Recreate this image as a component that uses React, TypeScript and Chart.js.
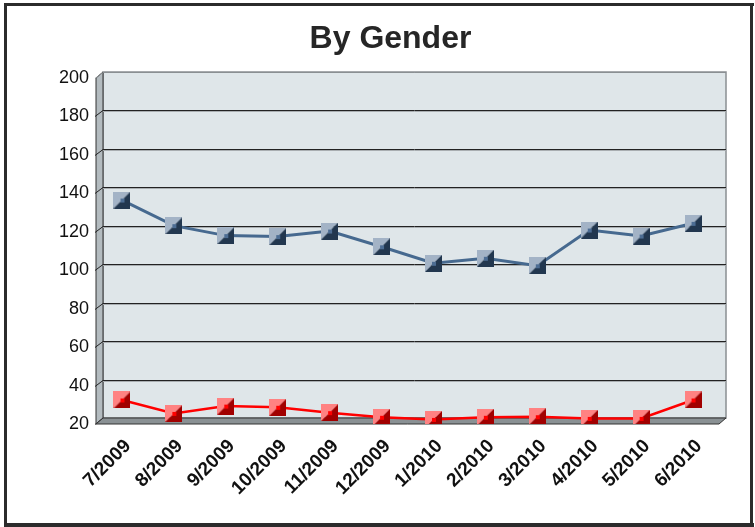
import React, { useEffect, useRef } from "react";
import { Chart, registerables } from "chart.js";

Chart.register(...registerables);

const categories = [
  "7/2009", "8/2009", "9/2009", "10/2009", "11/2009", "12/2009",
  "1/2010", "2/2010", "3/2010", "4/2010", "5/2010", "6/2010",
];
const blueSeries = [136.5, 123.2, 118, 117.5, 120.4, 112.2, 103.6, 106.2, 102.3, 120.9, 117.8, 124.4];
const redSeries = [32.5, 25.5, 29.3, 28.7, 25.9, 23.5, 22.4, 23.5, 23.8, 22.9, 22.9, 32.5];
const yTicks = [20, 40, 60, 80, 100, 120, 140, 160, 180, 200];
const titleText = "By Gender";

const DX = 7;
const DY = 6;

function makeMarker(light: string, dark: string, center: string): HTMLCanvasElement {
  const c = document.createElement("canvas");
  c.width = 17;
  c.height = 17;
  const g = c.getContext("2d")!;
  g.fillStyle = light;
  g.beginPath();
  g.moveTo(0, 0);
  g.lineTo(17, 0);
  g.lineTo(0, 17);
  g.closePath();
  g.fill();
  g.fillStyle = dark;
  g.beginPath();
  g.moveTo(17, 0);
  g.lineTo(17, 17);
  g.lineTo(0, 17);
  g.closePath();
  g.fill();
  g.fillStyle = center;
  g.fillRect(7, 7, 4, 4);
  return c;
}

const framePlugin = {
  id: "frame3d",
  beforeDraw(chart: any) {
    const ctx = chart.ctx;
    const W = chart.width;
    const H = chart.height;
    ctx.save();
    ctx.fillStyle = "#ffffff";
    ctx.fillRect(0, 0, W, H);
    ctx.fillStyle = "#2b2b2b";
    ctx.fillRect(4, 3, 750, 3);
    ctx.fillRect(4, 3, 3, 524);
    ctx.fillRect(750, 3, 3, 524);
    ctx.fillRect(4, 523, 750, 4);
    ctx.fillStyle = "#262626";
    ctx.font = "bold 32px 'Liberation Sans', Arial, sans-serif";
    ctx.textAlign = "center";
    ctx.textBaseline = "alphabetic";
    ctx.fillText(titleText, 390.5, 48);
    ctx.restore();
  },
  beforeDatasetsDraw(chart: any) {
    const ctx = chart.ctx;
    const { left, right, top, bottom } = chart.chartArea;
    const ys = chart.scales.y;
    ctx.save();
    // back wall
    ctx.fillStyle = "#dfe6e9";
    ctx.fillRect(left + DX, top - DY, right - left, bottom - top);
    ctx.strokeStyle = "#8a8f92";
    ctx.lineWidth = 1.5;
    ctx.strokeRect(left + DX, top - DY, right - left, bottom - top);
    // side wall
    ctx.fillStyle = "#b3bbbf";
    ctx.beginPath();
    ctx.moveTo(left, top);
    ctx.lineTo(left + DX, top - DY);
    ctx.lineTo(left + DX, bottom - DY);
    ctx.lineTo(left, bottom);
    ctx.closePath();
    ctx.fill();
    ctx.strokeStyle = "#333";
    ctx.lineWidth = 1;
    ctx.stroke();
    // gridlines
    for (const v of yTicks) {
      const yF = Math.round(ys.getPixelForValue(v)) + 0.5;
      ctx.strokeStyle = v === 200 ? "#8a8f92" : "#222";
      ctx.lineWidth = 1;
      ctx.beginPath();
      ctx.moveTo(left - 1, yF);
      ctx.lineTo(left + DX, yF - DY);
      ctx.lineTo(right + DX, yF - DY);
      ctx.stroke();
      if (v !== 200 && v !== 20) {
        ctx.strokeStyle = "#a9aeb1";
        ctx.beginPath();
        ctx.moveTo(left + DX, yF - DY + 1);
        ctx.lineTo(right + DX, yF - DY + 1);
        ctx.stroke();
      }
    }
    // floor
    ctx.fillStyle = "#8a9194";
    ctx.beginPath();
    ctx.moveTo(left, bottom);
    ctx.lineTo(left + DX, bottom - DY);
    ctx.lineTo(right + DX, bottom - DY);
    ctx.lineTo(right, bottom);
    ctx.closePath();
    ctx.fill();
    ctx.strokeStyle = "#333";
    ctx.lineWidth = 1;
    ctx.stroke();
    ctx.restore();
  },
};

export default function App() {
  const ref = useRef<HTMLCanvasElement>(null);
  useEffect(() => {
    if (!ref.current) return;
    const blueMarker = makeMarker("#a3b3c6", "#22374f", "#4d6d93");
    const redMarker = makeMarker("#ff8282", "#a10000", "#ff0000");
    const chart = new Chart(ref.current, {
      type: "line",
      data: {
        labels: categories,
        datasets: [
          {
            label: "Series A",
            data: blueSeries,
            borderColor: "#46698f",
            borderWidth: 3,
            pointStyle: blueMarker as any,
            pointRadius: 8,
            tension: 0,
            fill: false,
          },
          {
            label: "Series B",
            data: redSeries,
            borderColor: "#ff0000",
            borderWidth: 2.5,
            pointStyle: redMarker as any,
            pointRadius: 8,
            tension: 0,
            fill: false,
          },
        ],
      },
      options: {
        responsive: false,
        animation: false,
        devicePixelRatio: 1,
        layout: { padding: { left: 0, top: 78, right: 36, bottom: 0 } },
        plugins: { legend: { display: false }, title: { display: false }, tooltip: { enabled: false } },
        scales: {
          x: {
            type: "category",
            offset: true,
            grid: { display: false, drawTicks: false },
            border: { display: false },
            ticks: {
              minRotation: 45,
              maxRotation: 45,
              padding: 11,
              labelOffset: 6,
              color: "#111",
              font: { family: "'Liberation Sans', Arial, sans-serif", size: 19, weight: "bold" },
            },
            afterFit(scale: any) {
              scale.height = 103;
            },
          },
          y: {
            min: 20,
            max: 200,
            grid: { display: false, drawTicks: false },
            border: { display: false },
            ticks: {
              stepSize: 20,
              padding: 7,
              color: "#111",
              font: { family: "'Liberation Sans', Arial, sans-serif", size: 18 },
            },
            afterFit(scale: any) {
              scale.width = 96;
            },
          },
        },
      },
      plugins: [framePlugin],
    });
    return () => chart.destroy();
  }, []);
  return (
    <div style={{ position: "fixed", left: 0, top: 0, width: 755, height: 527 }}>
      <canvas ref={ref} width={755} height={527} style={{ display: "block" }} />
    </div>
  );
}
